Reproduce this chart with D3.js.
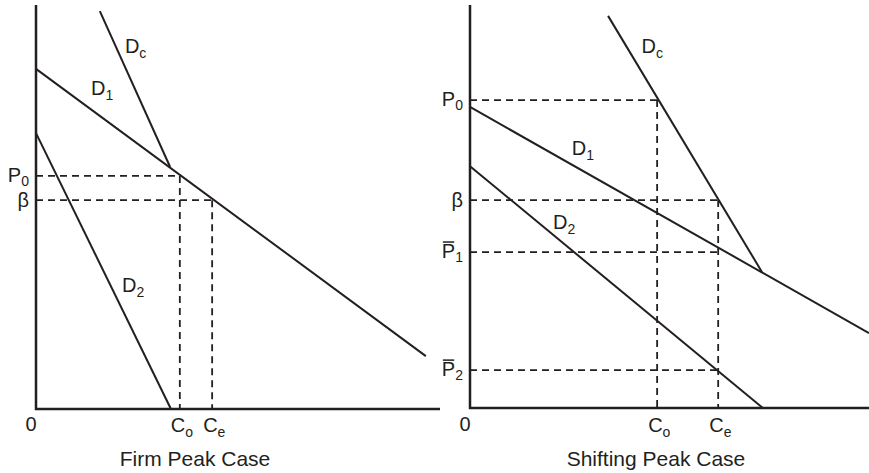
<!DOCTYPE html>
<html>
<head>
<meta charset="utf-8">
<script src="https://cdn.jsdelivr.net/npm/d3@7"></script>
<style>
  body { margin: 0; background: #fff; }
  text { font-family: "Liberation Sans", Arial, sans-serif; fill: #231f20; }
</style>
</head>
<body>
<div id="chart"></div>
<script>
// panel titles
var titles = ["Firm Peak Case", "Shifting Peak Case"];

// firm peak case: demand curves as [quantity, price] end points
var firmD1 = [[0, 8.42], [9.65, 1.31]];
var firmDc = [[1.58, 9.85], [3.32, 5.99]];
var firmD2 = [[0, 6.83], [3.34, 0]];
var firmPrices = [
  { name: "P", sub: "0", bar: false, value: 5.77 },
  { name: "β", sub: "", bar: false, value: 5.17 }
];
var firmQty = [
  { name: "C", sub: "o", value: 3.56 },
  { name: "C", sub: "e", value: 4.36 }
];
// [price index, quantity index]
var firmGuides = [[0, 0], [1, 1]];

// shifting peak case
var shiftD1 = [[0, 7.47], [10, 1.86]];
var shiftDc = [[3.46, 9.73], [7.32, 3.37]];
var shiftD2 = [[0, 6.00], [7.34, 0]];
var shiftPrices = [
  { name: "P", sub: "0", bar: false, value: 7.64 },
  { name: "β", sub: "", bar: false, value: 5.16 },
  { name: "P", sub: "1", bar: true, value: 3.87 },
  { name: "P", sub: "2", bar: true, value: 0.94 }
];
var shiftQty = [
  { name: "C", sub: "o", value: 4.69 },
  { name: "C", sub: "e", value: 6.22 }
];
var shiftGuides = [[0, 0], [1, 1], [2, 1], [3, 1]];

var width = 869, height = 473;

var svg = d3.select("#chart")
  .append("svg")
    .attr("width", width)
    .attr("height", height);

var panels = [
  {
    title: titles[0], titleX: 195,
    xr: [36, 440], yr: [409, 5],
    curves: [
      { pts: firmD1, label: "D", sub: "1", at: [1.36, 7.77] },
      { pts: firmDc, label: "D", sub: "c", at: [2.2, 8.82] },
      { pts: firmD2, label: "D", sub: "2", at: [2.13, 2.89] }
    ],
    prices: firmPrices, qty: firmQty, guides: firmGuides
  },
  {
    title: titles[1], titleX: 656,
    xr: [470, 869], yr: [408, 5],
    curves: [
      { pts: shiftD1, label: "D", sub: "1", at: [2.55, 6.28] },
      { pts: shiftDc, label: "D", sub: "c", at: [4.3, 8.81] },
      { pts: shiftD2, label: "D", sub: "2", at: [2.08, 4.44] }
    ],
    prices: shiftPrices, qty: shiftQty, guides: shiftGuides
  }
];

var ink = "#231f20";
var line = d3.line();

function subText(g, x, y, name, sub, anchor, dy) {
  var t = g.append("text")
    .attr("x", x)
    .attr("y", y)
    .attr("text-anchor", anchor)
    .style("font-size", "20px");
  t.append("tspan").text(name);
  if (sub) {
    t.append("tspan")
      .attr("dy", dy || 5)
      .style("font-size", "14px")
      .text(sub);
  }
  return t;
}

panels.forEach(function(p) {
  var x = d3.scaleLinear().domain([0, 10]).range(p.xr);
  var y = d3.scaleLinear().domain([0, 10]).range(p.yr);
  var g = svg.append("g");

  // dashed guides
  p.guides.forEach(function(gd) {
    var pr = p.prices[gd[0]], q = p.qty[gd[1]];
    g.append("line")
      .attr("x1", x(0)).attr("x2", x(q.value))
      .attr("y1", y(pr.value)).attr("y2", y(pr.value))
      .attr("stroke", ink).attr("stroke-width", 1.8)
      .attr("stroke-dasharray", "7,5");
  });
  p.qty.forEach(function(q, qi) {
    var top = d3.max(p.guides.filter(function(gd) { return gd[1] === qi; }),
      function(gd) { return p.prices[gd[0]].value; });
    g.append("line")
      .attr("x1", x(q.value)).attr("x2", x(q.value))
      .attr("y1", y(top)).attr("y2", y(0))
      .attr("stroke", ink).attr("stroke-width", 1.8)
      .attr("stroke-dasharray", "7,5");
  });

  // demand curves
  p.curves.forEach(function(c) {
    g.append("path")
      .attr("d", line(c.pts.map(function(d) { return [x(d[0]), y(d[1])]; })))
      .attr("fill", "none")
      .attr("stroke", ink)
      .attr("stroke-width", 2);
    subText(g, x(c.at[0]), y(c.at[1]), c.label, c.sub, "start");
  });

  // axes
  g.append("path")
    .attr("d", line([[x(0), y(10)], [x(0), y(0)], [x(10), y(0)]]))
    .attr("fill", "none")
    .attr("stroke", ink)
    .attr("stroke-width", 2.5);

  // price labels
  p.prices.forEach(function(pr) {
    var base = pr.sub ? 6 : 7;
    var t = subText(g, x(0) - 7, y(pr.value) + base, pr.name, pr.sub, "end", 4);
    if (pr.bar) {
      var b = t.node().getExtentOfChar(0);
      g.append("line")
        .attr("x1", b.x + 1).attr("x2", b.x + b.width - 1)
        .attr("y1", b.y + 2).attr("y2", b.y + 2)
        .attr("stroke", ink).attr("stroke-width", 1.5);
    }
  });

  // quantity labels
  subText(g, x(0) - 5, 431, "0", "", "middle");
  p.qty.forEach(function(q) {
    subText(g, x(q.value) - 9, 432, q.name, q.sub, "start");
  });

  g.append("text")
    .attr("x", p.titleX)
    .attr("y", 466)
    .attr("text-anchor", "middle")
    .style("font-size", "21px")
    .text(p.title);
});
</script>
</body>
</html>
